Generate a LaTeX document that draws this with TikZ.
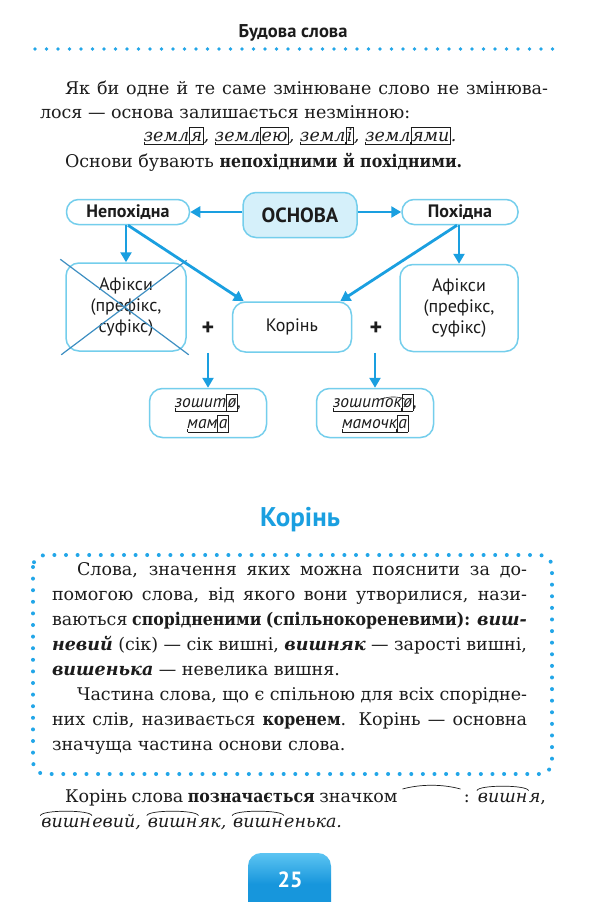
\documentclass[tikz,border=0pt]{standalone}
\usepackage{fontspec}
\setmainfont{DejaVu Serif}[BoldFeatures={FakeStretch=0.9}]
\setsansfont{PT Sans}
\usetikzlibrary{arrows.meta}
\definecolor{bl}{HTML}{1A9FE0}
\definecolor{dotc}{HTML}{22A6E8}
\definecolor{bdr}{HTML}{74CEEC}
\definecolor{fillc}{HTML}{D5F0FA}
\definecolor{xcol}{HTML}{3E8FC2}
\definecolor{ink}{HTML}{1C1C1C}
\definecolor{pgtop}{HTML}{5CC4F2}
\definecolor{pgbot}{HTML}{1796DC}
\newcommand\bodyf{\fontsize{17.5}{20}\selectfont}
\newcommand\diagf{\fontsize{18}{21}\selectfont}
\newcommand\bfit[1]{\textbf{\textit{#1}}}
% stem mark: bracket under the text
\newcommand\stm[1]{\setbox0=\hbox{#1}\leavevmode\rlap{\rule[-4pt]{0.6pt}{3.5pt}\rule[-4pt]{\dimexpr\wd0-1.2pt\relax}{0.6pt}\rule[-4pt]{0.6pt}{3.5pt}}\box0}
% inflection: boxed letters
\newcommand\inflbox[1]{{\setlength\fboxsep{0.8pt}\setlength\fboxrule{0.6pt}\fbox{\rule[-2.5pt]{0pt}{15pt}#1}}}
% suffix roof
\newcommand\suf[1]{\tikz[x=1pt,y=1pt,baseline=(sf.base)]{\node[inner sep=0pt,outer sep=0pt,anchor=base,draw=none,minimum size=0pt](sf) at (0,0){#1};\draw[line width=0.6pt,ink] ([yshift=1pt]sf.north west) -- ([yshift=5pt]sf.north) -- ([yshift=1pt]sf.north east);}}
% root arc
\newcommand\rootarc[1]{\tikz[x=1pt,y=1pt,baseline=(ra.base)]{\node[inner sep=0pt,outer sep=0pt,anchor=base,draw=none,minimum size=0pt](ra) at (0,0){#1};\draw[line width=0.7pt,ink] ([shift={(-1pt,2pt)}]ra.north west) .. controls ([yshift=8pt]ra.north west) and ([yshift=8pt]ra.north east) .. ([shift={(1pt,2pt)}]ra.north east);}}
\newcommand\arcsym{\tikz[x=1pt,y=1pt,baseline=0pt]{\path (0,0) -- (58,0);\draw[line width=0.7pt,ink] (0,13) .. controls (18,18) and (40,18) .. (58,13);}}
\tikzset{
  ln/.style={anchor=base west, inner sep=0pt, outer sep=0pt, text=ink},
  pill/.style={draw=bdr, line width=1.5pt, rounded corners=12pt, fill=white, inner sep=0pt, minimum height=25pt, text=ink, font=\sffamily\bfseries\fontsize{18}{20}\selectfont},
  cbox/.style={draw=bdr, line width=1.5pt, rounded corners=13pt, fill=white, inner sep=0pt, align=center, text=ink, font=\sffamily\diagf},
  arr/.style={draw=bl, line width=2.8pt, -{Triangle[length=10pt,width=11pt]}},
  plus/.style={inner sep=0pt, text=ink, font=\sffamily\bfseries\fontsize{24}{24}\selectfont},
}
\begin{document}
\begin{tikzpicture}[x=1pt,y=-1pt]
\useasboundingbox[fill=white] (0,0) rectangle (600,902);

% header
\node[inner sep=0pt, text=ink, font=\sffamily\bfseries\fontsize{18.5}{20}\selectfont] (title) at (293,33) {Будова слова};
\draw[dotc, line width=3.6pt, dash pattern=on 0pt off 11.5pt, line cap=round] (35,49) -- (553,49);

% first paragraph
\node[ln] (p1) at (65,94) {\bodyf\makebox[483pt][s]{Як би одне й те саме змінюване слово не змінюва-}};
\node[ln] (p2) at (40,118) {\bodyf лося — основа залишається незмінною:};
\node[anchor=base, inner sep=0pt, text=ink] (p3) at (300,141) {\bodyf\itshape \stm{земл}\inflbox{я}, \stm{земл}\inflbox{ею}, \stm{земл}\inflbox{і}, \stm{земл}\inflbox{ями}.};
\node[ln] (p4) at (65,167) {\bodyf Основи бувають \textbf{непохідними й похідними.}};

% diagram
\node[cbox, fill=fillc, minimum width=114pt, minimum height=45pt, font=\sffamily\bfseries\fontsize{20.5}{22}\selectfont] (osn) at (300,215) {ОСНОВА};
\node[pill, minimum width=123pt] (nep) at (128,212) {Непохідна};
\node[pill, minimum width=116pt] (poh) at (460,212) {Похідна};
\node[cbox, minimum width=120pt, minimum height=88pt] (afl) at (126,307) {Афікси\\(префікс,\\суфікс)};
\node[cbox, minimum width=118pt, minimum height=87pt] (afr) at (459,308) {Афікси\\(префікс,\\суфікс)};
\node[cbox, minimum width=119pt, minimum height=50pt] (kor) at (292,327) {Корінь};
\node[plus] (pl1) at (208,329) {+};
\node[plus] (pl2) at (376,329) {+};
\node[cbox, minimum width=117pt, minimum height=49pt, font=\sffamily\itshape\fontsize{17.5}{21}\selectfont] (zl) at (208,413) {\stm{зошит}\inflbox{ø},\\\stm{мам}\inflbox{а}};
\node[cbox, minimum width=117pt, minimum height=49pt, font=\sffamily\itshape\fontsize{17.5}{21}\selectfont] (zr) at (375,413) {\stm{зошит\suf{ок}}\inflbox{ø},\\\stm{мамочк}\inflbox{а}};

% cross over left affix box
\draw[xcol, line width=1.2pt] ([shift={(-5,-3)}]afl.north west) -- ([shift={(2,3)}]afl.south east);
\draw[xcol, line width=1.2pt] ([shift={(0,-2)}]afl.north east) -- ([shift={(-4,3)}]afl.south west);

% arrows
\draw[arr] (osn.west|-nep) -- (nep.east);
\draw[arr] (osn.east|-poh) -- (poh.west);
\draw[arr] (afl.north|-nep.south) -- (afl.north);
\draw[arr] (nep.south) -- ([xshift=12pt]kor.north west);
\draw[arr] (afr.north|-poh.south) -- (afr.north);
\draw[arr] ([xshift=-3pt]poh.south) -- ([xshift=-12pt]kor.north east);
\draw[arr] (zl.north|-kor.south) -- (zl.north);
\draw[arr] (zr.north|-kor.south) -- (zr.north);

% Корінь section
\node[inner sep=0pt, text=bl, font=\sffamily\bfseries\fontsize{27}{30}\selectfont] (kh) at (300,520) {Корінь};
\draw[dotc, line width=4pt, dash pattern=on 0pt off 11.6pt, line cap=round, rounded corners=12pt] (33,555) rectangle (552,774);

\node[ln] (b1) at (77,575) {\bodyf\makebox[450pt][s]{Слова, значення яких можна пояснити за до-}};
\node[ln] (b2) at (52,600) {\bodyf\makebox[475pt][s]{помогою слова, від якого вони утворилися, нази-}};
\node[ln] (b3) at (52,625) {\bodyf\makebox[475pt][s]{ваються \textbf{спорідненими (спільнокореневими):} \bfit{виш-}}};
\node[ln] (b4) at (52,650) {\bodyf\makebox[475pt][s]{\bfit{невий} (сік) — сік вишні, \bfit{вишняк} — зарості вишні,}};
\node[ln] (b5) at (52,675) {\bodyf\bfit{вишенька} — невелика вишня.};
\node[ln] (b6) at (77,700) {\bodyf\makebox[450pt][s]{Частина слова, що є спільною для всіх спорідне-}};
\node[ln] (b7) at (52,725) {\bodyf\makebox[475pt][s]{них слів, називається \textbf{коренем}. Корінь — основна}};
\node[ln] (b8) at (52,750) {\bodyf значуща частина основи слова.};

% bottom lines
\node[ln] (c1) at (65,802) {\bodyf\makebox[481pt][s]{Корінь слова \textbf{позначається} значком \arcsym\,: \textit{\rootarc{вишн}я},}};
\node[ln] (c2) at (40,827) {\bodyf\itshape \rootarc{вишн}евий, \rootarc{вишн}як, \rootarc{вишн}енька.};

% page number tab
\shade[top color=pgtop, bottom color=pgbot, middle color=pgbot, rounded corners=13pt] (248,915) -- (248,853) -- (331,853) -- (331,915) -- cycle;
\node[inner sep=0pt, text=white, font=\sffamily\bfseries\fontsize{22}{22}\selectfont] (pg) at (290,880) {25};
\end{tikzpicture}
\end{document}
